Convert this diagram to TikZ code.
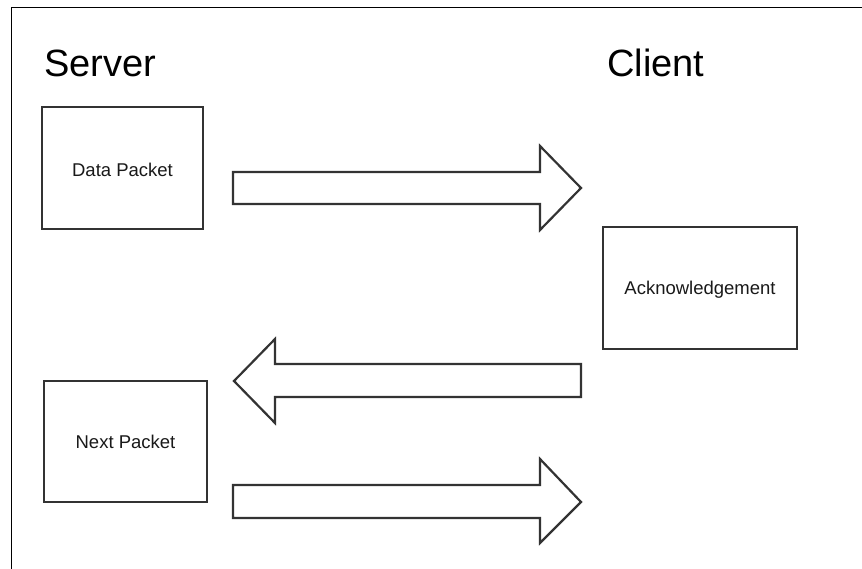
\documentclass[tikz,border=0pt]{standalone}
\usepackage{fontspec}
\setmainfont{Liberation Sans}
\begin{document}
\begin{tikzpicture}[x=1pt,y=-1pt,
  box/.style={draw=black!80,line width=2.2pt,fill=white},
  fatarrow/.style={draw=black!80,line width=2.2pt,line join=miter,fill=white},
  title/.style={font=\fontsize{38}{44}\selectfont,text=black,inner sep=0pt,anchor=base west},
  lbl/.style={font=\fontsize{18.5}{22}\selectfont,text=black!90}]
\useasboundingbox[fill=white] (0,0) rectangle (862,569);
\draw[black,line width=1pt] (862,8) -- (11,8) -- (11,569);
\node[title] (server) at (44,77) {Server};
\node[title] (client) at (607,77) {Client};
\draw[box] (42,107) rectangle (203,229);
\node[lbl] (data) at (122.5,170) {Data Packet};
\draw[box] (603,227) rectangle (797,349);
\node[lbl] (ack) at (700,290) {Acknowledgement};
\draw[box] (44,381) rectangle (207,502);
\node[lbl] (next) at (125.5,442) {Next Packet};
\draw[fatarrow] (233,172) -- (540,172) -- (540,146) -- (581,188) -- (540,230) -- (540,204) -- (233,204) -- cycle;
\draw[fatarrow] (581,364) -- (275,364) -- (275,339) -- (234,381) -- (275,423) -- (275,397) -- (581,397) -- cycle;
\draw[fatarrow] (233,485) -- (540,485) -- (540,459) -- (581,502) -- (540,543) -- (540,518) -- (233,518) -- cycle;
\end{tikzpicture}
\end{document}
